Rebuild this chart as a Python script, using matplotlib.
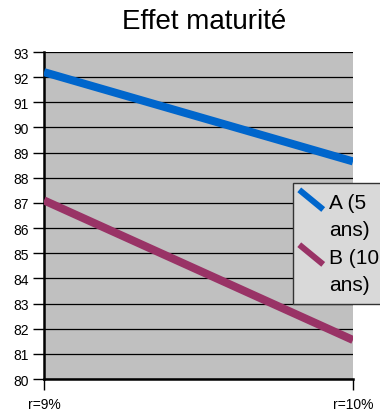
import matplotlib.pyplot as plt
from matplotlib.legend_handler import HandlerLine2D
from matplotlib.lines import Line2D

categories = ['r=9%', 'r=10%']
series_a = [92.2, 88.65]
series_b = [87.1, 81.55]
labels = ['A (5\nans)', 'B (10\nans)']
yticks = list(range(80, 94))


class DiagonalHandler(HandlerLine2D):
    # legend key drawn as a short slanted stroke next to the first text line
    def create_artists(self, legend, orig_handle, xdescent, ydescent,
                       width, height, fontsize, trans):
        line = Line2D([-0.2 * width, 0.95 * width],
                      [height * 2.32, height * 0.97],
                      color=orig_handle.get_color(),
                      linewidth=orig_handle.get_linewidth() * 0.75,
                      solid_capstyle='butt', transform=trans)
        return [line]


plt.rcParams['font.family'] = ['Liberation Sans', 'DejaVu Sans']

fig = plt.figure(figsize=(3.8, 4.14), dpi=100)
ax = fig.add_axes([44 / 380, 34 / 414, 309 / 380, 327 / 414])
ax.set_facecolor('#c0c0c0')

x = range(len(categories))
la, = ax.plot(x, series_a, color='#0066cc', linewidth=5.8,
              solid_capstyle='butt', label=labels[0], zorder=3)
lb, = ax.plot(x, series_b, color='#993366', linewidth=5.8,
              solid_capstyle='butt', label=labels[1], zorder=3)

ax.set_xlim(0, 1)
ax.set_ylim(80, 93)
ax.set_yticks(yticks)
ax.set_xticks(list(x))
ax.set_xticklabels(categories, fontsize=10)
ax.tick_params(axis='y', labelsize=10, length=8, width=1, pad=3)
ax.tick_params(axis='x', length=8, width=1, pad=5)
ax.yaxis.grid(True, color='black', linewidth=0.9)
ax.set_axisbelow(True)

for side in ['top', 'right']:
    ax.spines[side].set_visible(False)
ax.spines['left'].set_linewidth(1.8)
ax.spines['bottom'].set_linewidth(1.8)

fig.text(204.5 / 380, 1 - 22 / 414, 'Effet maturité', fontsize=20,
         ha='center', va='center')

leg = fig.legend(handles=[la, lb], loc='upper left',
                 bbox_to_anchor=(293 / 380, 1 - 184 / 414),
                 fontsize=15, frameon=True, fancybox=False,
                 handlelength=1.0, handletextpad=0.23, labelspacing=0.45,
                 borderpad=0.5, borderaxespad=0,
                 handler_map={Line2D: DiagonalHandler()})
for t in leg.get_texts():
    t.set_linespacing(1.5)
leg.get_frame().set_facecolor('#d9d9d9')
leg.get_frame().set_edgecolor('#333333')
leg.get_frame().set_linewidth(1)
leg.get_frame().set_alpha(1)

fig.savefig('out.png', dpi=100)
